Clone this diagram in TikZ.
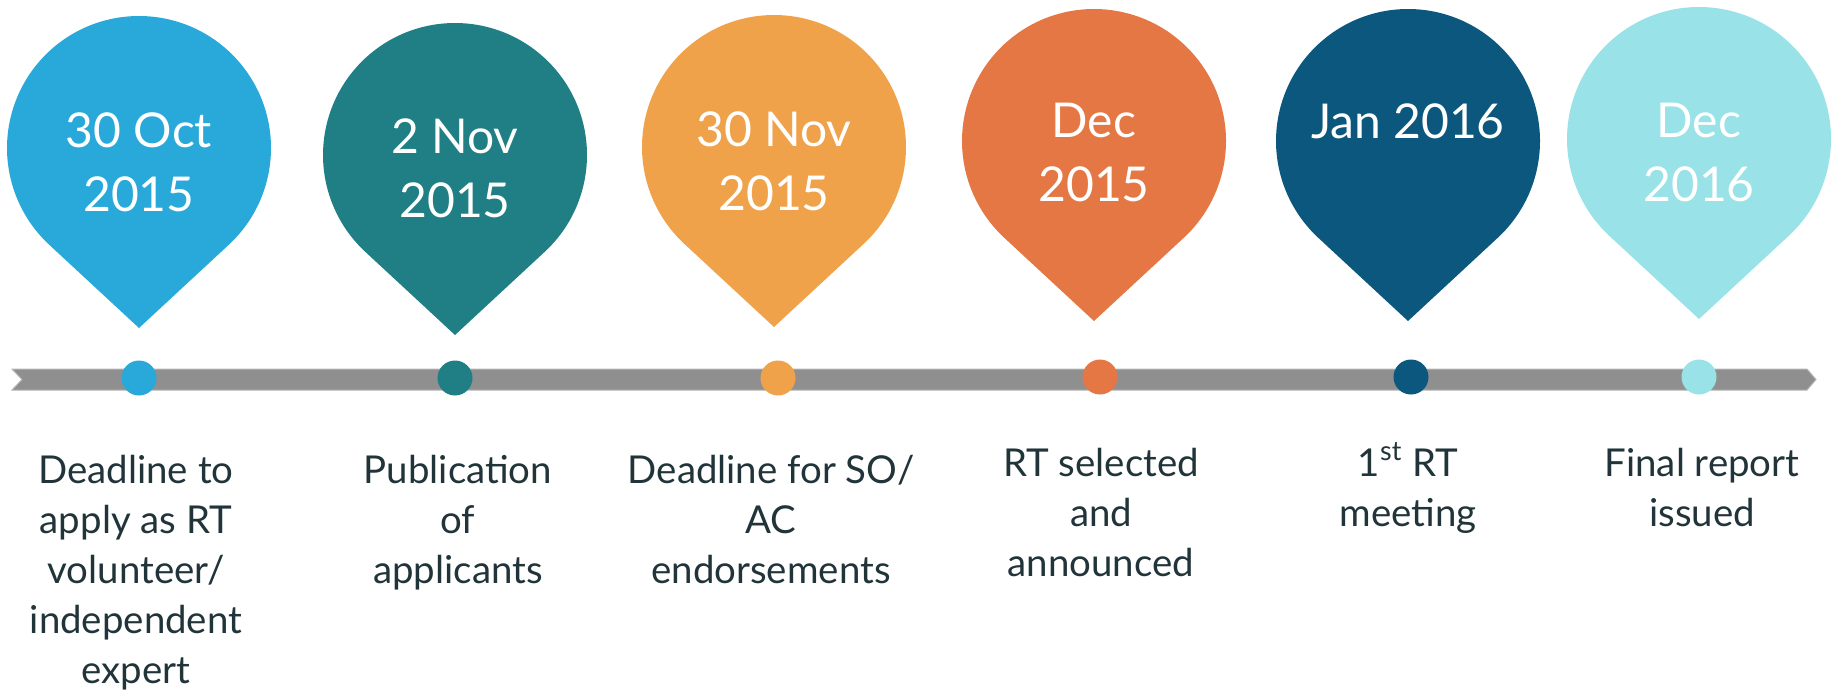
\documentclass[tikz,border=0pt]{standalone}
\usepackage{fontspec}
\setmainfont{Lato}
\definecolor{pinone}{RGB}{41,169,218}
\definecolor{pintwo}{RGB}{31,127,132}
\definecolor{pinthree}{RGB}{240,162,75}
\definecolor{pinfour}{RGB}{228,119,68}
\definecolor{pinfive}{RGB}{11,87,125}
\definecolor{pinsix}{RGB}{153,226,232}
\definecolor{bargray}{RGB}{143,143,143}
\definecolor{baredge}{RGB}{181,181,181}
\definecolor{labeltext}{RGB}{33,52,58}

\tikzset{every picture/.style={line width=0.75pt}}
\tikzset{
  datetext/.style={text=white, align=center, inner sep=0pt, font=\fontsize{24}{32}\selectfont},
  eventtext/.style={text=labeltext, align=center, inner sep=0pt, anchor=base, font=\fontsize{19.2}{25}\selectfont}
}

\begin{document}
\begin{tikzpicture}[x=0.5pt,y=0.5pt,yscale=-1,xscale=1]
\useasboundingbox (0,0) rectangle (1831,693);

%Shape: Timeline bar
\draw [color=baredge, fill=bargray, line width=0.5pt] (12,369) -- (1807,369) -- (1816,379.5) -- (1807,390) -- (12,390) -- (22,379.5) -- cycle ;

%Shape: Pin 1
\fill [pinone] (139,148) ++(47.1:132) arc [start angle=47.1, end angle=-227.1, radius=132] -- (139,328) -- cycle ;
%Shape: Pin 2
\fill [pintwo] (455,155) ++(47.1:132) arc [start angle=47.1, end angle=-227.1, radius=132] -- (455,335) -- cycle ;
%Shape: Pin 3
\fill [pinthree] (774,147) ++(47.1:132) arc [start angle=47.1, end angle=-227.1, radius=132] -- (774,327) -- cycle ;
%Shape: Pin 4
\fill [pinfour] (1094,141) ++(47.1:132) arc [start angle=47.1, end angle=-227.1, radius=132] -- (1094,321) -- cycle ;
%Shape: Pin 5
\fill [pinfive] (1408,141) ++(47.1:132) arc [start angle=47.1, end angle=-227.1, radius=132] -- (1408,321) -- cycle ;
%Shape: Pin 6
\fill [pinsix] (1699,139) ++(47.1:132) arc [start angle=47.1, end angle=-227.1, radius=132] -- (1699,319) -- cycle ;

%Shape: Dots on the bar
\fill [pinone] (139,378) circle [radius=17.5] ;
\fill [pintwo] (455,378) circle [radius=17.5] ;
\fill [pinthree] (778,378) circle [radius=17.5] ;
\fill [pinfour] (1100,377) circle [radius=17.5] ;
\fill [pinfive] (1411,377) circle [radius=17.5] ;
\fill [pinsix] (1699,377) circle [radius=17.5] ;

% Text Node
\node [datetext] (date1) at (139,162) {30 Oct\\2015};
% Text Node
\node [datetext] (date2) at (455,168.5) {2 Nov\\2015};
% Text Node
\node [datetext] (date3) at (774,161.5) {30 Nov\\2015};
% Text Node
\node [datetext] (date4) at (1094,152.5) {Dec\\2015};
% Text Node
\node [datetext, anchor=base] (date5) at (1408,138) {Jan 2016};
% Text Node
\node [datetext] (date6) at (1699,152.5) {Dec\\2016};

% Text Node
\node [eventtext] (event1) at (136,683) {Deadline to\\apply as RT\\volunteer/\\independent\\expert};
% Text Node
\node [eventtext] (event2) at (458,583) {Publication\\of\\applicants};
% Text Node
\node [eventtext] (event3) at (771,583) {Deadline for SO/\\AC\\endorsements};
% Text Node
\node [eventtext] (event4) at (1101,576) {RT selected\\and\\announced};
% Text Node
\node [eventtext] (event5) at (1408,526) {1\textsuperscript{st} RT\\meeting};
% Text Node
\node [eventtext] (event6) at (1702,526) {Final report\\issued};

\end{tikzpicture}
\end{document}
